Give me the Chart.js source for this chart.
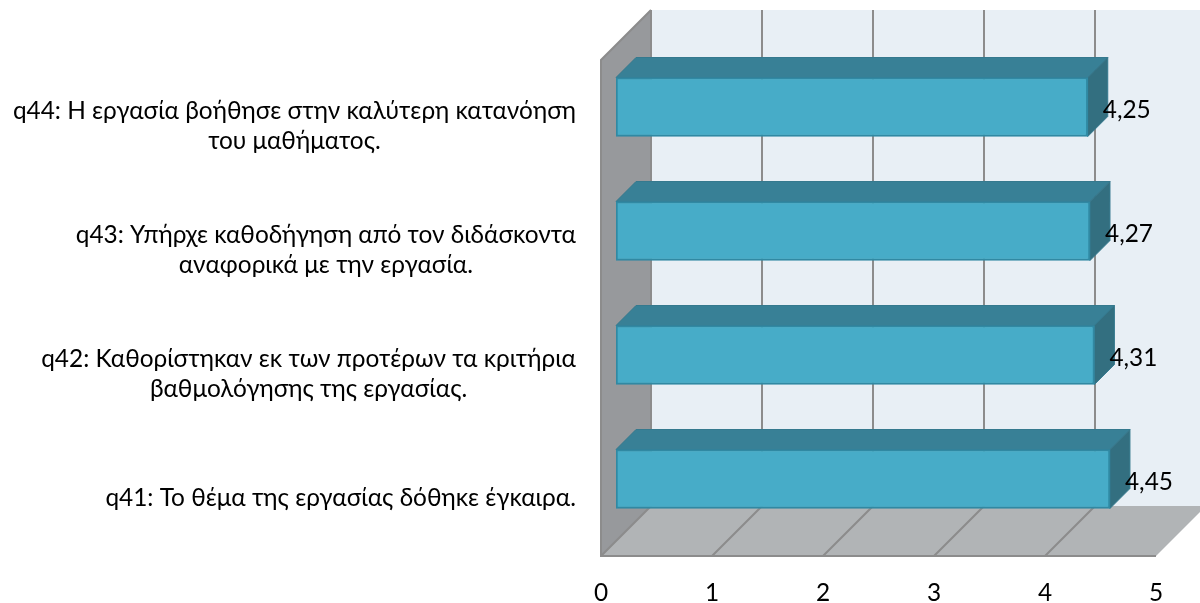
<!DOCTYPE html>
<html lang="el">
<head>
    <meta charset="UTF-8">
    <title>q41-q44</title>
    <script src="https://cdn.jsdelivr.net/npm/chart.js"></script>
    <style>
        html, body { margin: 0; padding: 0; background: #fff; }
        canvas { display: block; }
    </style>
</head>
<body>
    <canvas id="myChart" width="1200" height="603"></canvas>
    <script>
        const categories = [
            ['q44: Η εργασία βοήθησε στην καλύτερη κατανόηση', 'του μαθήματος.'],
            ['q43: Υπήρχε καθοδήγηση από τον διδάσκοντα', 'αναφορικά με την εργασία.'],
            ['q42: Καθορίστηκαν εκ των προτέρων τα κριτήρια', 'βαθμολόγησης της εργασίας.'],
            ['q41: Το θέμα της εργασίας δόθηκε έγκαιρα.']
        ];
        const values = [4.25, 4.27, 4.31, 4.45];
        const tickValues = [0, 1, 2, 3, 4, 5];

        const FONT = '24.4px Lato, "Open Sans", sans-serif';
        const WALL = 50;   // profondeur du fond 3D
        const BAR_SHIFT = 15;
        const BAR_DEPTH = 20;

        function poly(ctx, pts, fill, stroke, lw) {
            ctx.beginPath();
            pts.forEach((p, i) => i ? ctx.lineTo(p[0], p[1]) : ctx.moveTo(p[0], p[1]));
            ctx.closePath();
            ctx.fillStyle = fill;
            ctx.fill();
            if (stroke) {
                ctx.strokeStyle = stroke;
                ctx.lineWidth = lw || 1;
                ctx.stroke();
            }
        }

        // Murs, sol et grille
        const walls = {
            id: 'walls',
            beforeDatasetsDraw(chart) {
                const { ctx, chartArea: a, scales: { x } } = chart;
                const d = WALL;
                ctx.save();
                poly(ctx, [[a.left + d, a.top - d], [a.right + d, a.top - d], [a.right + d, a.bottom - d], [a.left + d, a.bottom - d]], '#e8eff5');
                poly(ctx, [[a.left, a.top], [a.left + d, a.top - d], [a.left + d, a.bottom - d], [a.left, a.bottom]], '#97999c');
                poly(ctx, [[a.left, a.bottom], [a.right, a.bottom], [a.right + d, a.bottom - d], [a.left + d, a.bottom - d]], '#b1b4b6');
                ctx.strokeStyle = '#8c8c8c';
                ctx.lineWidth = 2;
                tickValues.forEach(v => {
                    const px = x.getPixelForValue(v);
                    ctx.beginPath();
                    ctx.moveTo(px + d, a.top - d);
                    ctx.lineTo(px + d, a.bottom - d);
                    if (v !== tickValues[tickValues.length - 1]) {
                        ctx.lineTo(px, a.bottom);
                    }
                    ctx.stroke();
                });
                ctx.beginPath();
                ctx.moveTo(a.left + d, a.top - d);
                ctx.lineTo(a.left, a.top);
                ctx.lineTo(a.left, a.bottom);
                ctx.lineTo(a.right, a.bottom);
                ctx.stroke();
                ctx.restore();
            }
        };

        // Faces 3D des barres + décalage de la face avant
        const bars3d = {
            id: 'bars3d',
            beforeDatasetDraw(chart) {
                const { ctx } = chart;
                const s = BAR_SHIFT, d = BAR_DEPTH;
                ctx.save();
                chart.getDatasetMeta(0).data.forEach(bar => {
                    const p = bar.getProps(['x', 'y', 'base', 'height'], true);
                    const l = p.base + s, r = p.x + s;
                    const t = p.y - p.height / 2 - s, b = p.y + p.height / 2 - s;
                    poly(ctx, [[l, t], [l + d, t - d], [r + d, t - d], [r, t]], '#388096', '#35798e', 1);
                    poly(ctx, [[r, t], [r + d, t - d], [r + d, b - d], [r, b]], '#336f80', '#35798e', 1);
                });
                ctx.translate(s, -s);
            },
            afterDatasetDraw(chart) {
                chart.ctx.restore();
            }
        };

        // Libellés de valeurs et libellés de catégories centrés ligne par ligne
        const labels = {
            id: 'labels',
            afterDraw(chart) {
                const { ctx, scales: { x, y } } = chart;
                ctx.save();
                ctx.font = FONT;
                ctx.fillStyle = '#000';
                ctx.textBaseline = 'middle';
                ctx.textAlign = 'center';
                values.forEach((v, i) => {
                    ctx.fillText(String(v).replace('.', ','), x.getPixelForValue(v) + 54, y.getPixelForValue(i) - 12);
                });
                categories.forEach((lines, i) => {
                    const w = Math.max(...lines.map(t => ctx.measureText(t).width));
                    const cx = x.left - 25 - w / 2;
                    const top = y.getPixelForValue(i) + 4 - (lines.length - 1) * 15;
                    lines.forEach((t, j) => ctx.fillText(t, cx, top + j * 30));
                });
                ctx.restore();
            }
        };

        new Chart(document.getElementById('myChart').getContext('2d'), {
            type: 'bar',
            data: {
                labels: categories,
                datasets: [{
                    data: values,
                    backgroundColor: '#47acc8',
                    borderColor: '#3089a3',
                    borderWidth: 2,
                    borderSkipped: false,
                    barThickness: 59
                }]
            },
            options: {
                indexAxis: 'y',
                responsive: false,
                animation: false,
                layout: { padding: { left: 601, right: 44, top: 60, bottom: 0 } },
                plugins: { legend: { display: false }, tooltip: { enabled: false } },
                scales: {
                    x: {
                        min: 0,
                        max: 5,
                        afterBuildTicks(axis) { axis.ticks = tickValues.map(v => ({ value: v })); },
                        afterFit(axis) { axis.height = 47; },
                        grid: { display: false },
                        border: { display: false },
                        ticks: { color: '#000', font: { family: 'Lato, "Open Sans", sans-serif', size: 24.4 }, padding: 15, maxRotation: 0 }
                    },
                    y: {
                        afterFit(axis) { axis.width = 0; },
                        grid: { display: false },
                        border: { display: false },
                        ticks: { display: false }
                    }
                }
            },
            plugins: [walls, bars3d, labels]
        });
    </script>
</body>
</html>
